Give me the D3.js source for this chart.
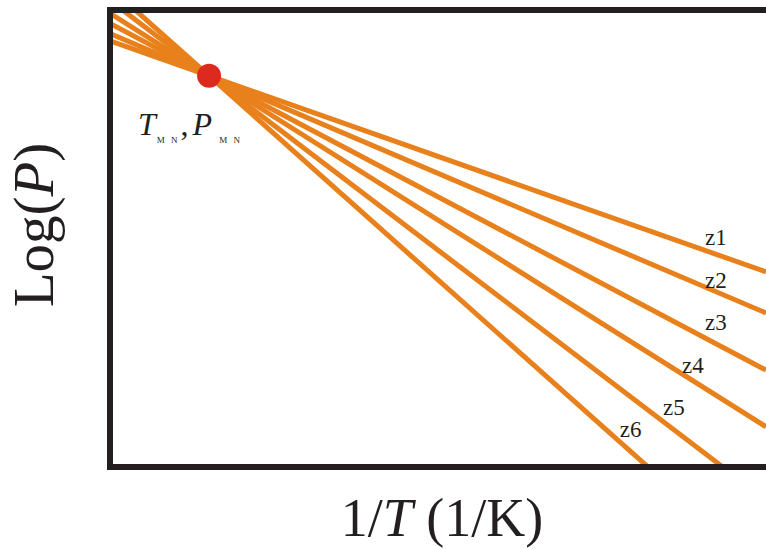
<!DOCTYPE html>
<html>
<head>
<meta charset="utf-8">
<script src="https://cdn.jsdelivr.net/npm/d3@7"></script>
<style>
  body { margin: 0; background: #fff; }
  svg { display: block; }
  text { font-family: "Liberation Serif", "Times New Roman", serif; fill: #231f20; }
</style>
</head>
<body>
<div id="chart"></div>
<script>
// series names and their Log(P) value at the right edge (1/T = 1)
var series = ["z1", "z2", "z3", "z4", "z5", "z6"];
var endLogP = [0.427, 0.337, 0.212, 0.088, -0.072, -0.230];
// common point where all lines cross (T_MIN, P_MIN)
var pivotInvT = 0.151;
var pivotLogP = 0.856;

var width = 766, height = 549;
var margin = {top: 10, left: 110, bottom: 82};
var orange = "#e8801c", dark = "#231f20";

var svg = d3.select("#chart").append("svg")
    .attr("width", width)
    .attr("height", height);

var x = d3.scaleLinear().domain([0, 1]).range([margin.left, width]);
var y = d3.scaleLinear().domain([0, 1]).range([height - margin.bottom, margin.top]);

svg.append("clipPath").attr("id", "plot")
  .append("rect")
    .attr("x", x(0)).attr("y", y(1))
    .attr("width", x(1) - x(0))
    .attr("height", y(0) - y(1));

// one line per series, through the pivot
var lines = series.map(function(name, i) {
    var slope = (endLogP[i] - pivotLogP) / (1 - pivotInvT);
    return {name: name, pts: [[0, pivotLogP - slope * pivotInvT], [1, endLogP[i]]]};
});

var line = d3.line()
    .x(function(d) { return x(d[0]); })
    .y(function(d) { return y(d[1]); });

svg.append("g").attr("clip-path", "url(#plot)")
  .selectAll("path")
  .data(lines)
  .enter()
  .append("path")
    .attr("d", function(d) { return line(d.pts); })
    .attr("fill", "none")
    .attr("stroke", orange)
    .attr("stroke-width", 5);

// frame: left, top, bottom (right side runs off the picture)
svg.append("path")
    .attr("d", "M" + width + "," + y(1) + "H" + x(0) + "V" + y(0) + "H" + width)
    .attr("fill", "none")
    .attr("stroke", dark)
    .attr("stroke-width", 6);

svg.append("circle")
    .attr("cx", x(pivotInvT))
    .attr("cy", y(pivotLogP))
    .attr("r", 12)
    .attr("fill", "#dc2a1e");

// label placement (data units)
var labelPos = [[0.907, 0.486], [0.907, 0.392], [0.907, 0.300], [0.872, 0.206], [0.843, 0.114], [0.777, 0.066]];
svg.selectAll(".zlabel")
  .data(series)
  .enter()
  .append("text")
    .attr("class", "zlabel")
    .attr("x", function(d, i) { return x(labelPos[i][0]); })
    .attr("y", function(d, i) { return y(labelPos[i][1]); })
    .attr("font-size", 23)
    .text(function(d) { return d; });

// T_MIN , P_MIN annotation
var ann = svg.append("text")
    .attr("x", x(pivotInvT) - 71)
    .attr("y", y(pivotLogP) + 59)
    .attr("font-size", 32);
ann.append("tspan").attr("font-style", "italic").text("T");
ann.append("tspan").attr("font-size", 9).attr("letter-spacing", 2).attr("dy", 8).attr("dx", 1).text("M N");
ann.append("tspan").attr("dy", -8).attr("dx", 1).text(",");
ann.append("tspan").attr("font-style", "italic").attr("dx", 4).text("P");
ann.append("tspan").attr("font-size", 9).attr("letter-spacing", 2).attr("dy", 8).attr("dx", 7).text("M N");

// axis titles
var xt = svg.append("text")
    .attr("x", 442)
    .attr("y", 536)
    .attr("text-anchor", "middle")
    .attr("font-size", 54);
xt.append("tspan").text("1/");
xt.append("tspan").attr("font-style", "italic").text("T");
xt.append("tspan").text(" (1/K)");

var yt = svg.append("text")
    .attr("transform", "translate(53,225) rotate(-90)")
    .attr("text-anchor", "middle")
    .attr("font-size", 57);
yt.append("tspan").text("Log(");
yt.append("tspan").attr("font-style", "italic").text("P");
yt.append("tspan").text(")");
</script>
</body>
</html>
